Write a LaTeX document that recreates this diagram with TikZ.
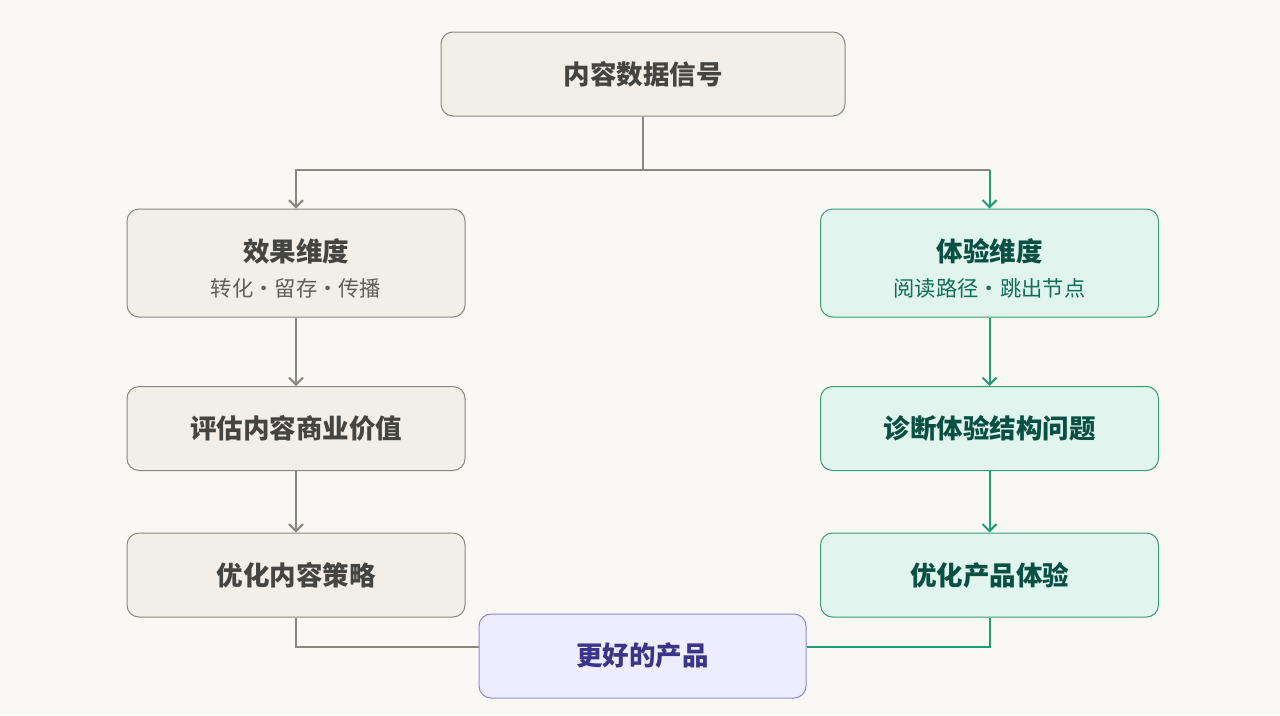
\documentclass[tikz,border=0pt]{standalone}
\usepackage{fontspec}
\setmainfont{Noto Sans CJK SC}
\usetikzlibrary{arrows.meta}
\definecolor{bg}{HTML}{F9F8F4}
\definecolor{grayfill}{HTML}{F1EFE8}
\definecolor{graydraw}{HTML}{8A8880}
\definecolor{graytext}{HTML}{444441}
\definecolor{graysub}{HTML}{5F5E5A}
\definecolor{grayline}{HTML}{888780}
\definecolor{greenfill}{HTML}{E1F5EE}
\definecolor{greendraw}{HTML}{3B9A78}
\definecolor{greentext}{HTML}{085041}
\definecolor{greensub}{HTML}{0F6E56}
\definecolor{greenline}{HTML}{1D9E75}
\definecolor{purplefill}{HTML}{EEEDFE}
\definecolor{purpledraw}{HTML}{8E86D8}
\definecolor{purpletext}{HTML}{3C3489}
\tikzset{
  box/.style={rounded corners=12pt, line width=1pt, minimum width=338pt, minimum height=84pt, align=center, inner sep=0pt},
  graybox/.style={box, fill=grayfill, draw=graydraw, text=graytext},
  greenbox/.style={box, fill=greenfill, draw=greendraw, text=greentext},
  purplebox/.style={box, fill=purplefill, draw=purpledraw, text=purpletext},
  main/.style={font=\fontsize{26.5}{30}\selectfont\bfseries},
  grayconn/.style={draw=grayline, line width=2pt},
  greenconn/.style={draw=greenline, line width=2pt},
  arr/.style={-{Straight Barb[length=7pt,width=14pt,line width=2pt]}}
}
\begin{document}
\begin{tikzpicture}[x=1pt,y=-1pt]
\fill[bg] (0,0) rectangle (1280,715);
\useasboundingbox (0,0) rectangle (1280,715);
% nodes
\node[graybox, main, minimum width=404pt] (top) at (643,74) {内容数据信号};
\node[graybox, minimum height=108pt] (eff) at (296,263) {{\fontsize{26.5}{30}\selectfont\bfseries\rule{0pt}{34pt}效果维度}\\[14pt]{\fontsize{21.3}{24}\selectfont\color{graysub}转化·留存·传播}};
\node[graybox, main] (eval) at (296,428.5) {评估内容商业价值};
\node[graybox, main] (optc) at (296,575) {优化内容策略};
\node[greenbox, minimum height=108pt] (exp) at (989.5,263) {{\fontsize{26.5}{30}\selectfont\bfseries\rule{0pt}{34pt}体验维度}\\[14pt]{\fontsize{21.3}{24}\selectfont\color{greensub}阅读路径·跳出节点}};
\node[greenbox, main] (diag) at (989.5,428.5) {诊断体验结构问题};
\node[greenbox, main] (optp) at (989.5,575) {优化产品体验};
\node[purplebox, main, minimum width=327pt] (better) at (642.5,656) {更好的产品};
% junction
\coordinate (j) at (643,170);
\coordinate (jl) at (eff.north |- j);
\coordinate (jr) at (exp.north |- j);
\draw[grayconn] (top.south) -- (j);
\draw[grayconn, arr] (j) -- (jl) -- (eff.north);
\draw[grayconn] (j) -- (jr);
\draw[greenconn, arr] (jr) -- (exp.north);
\draw[grayconn, arr] (eff.south) -- (eval.north);
\draw[grayconn, arr] (eval.south) -- (optc.north);
\draw[greenconn, arr] (exp.south) -- (diag.north);
\draw[greenconn, arr] (diag.south) -- (optp.north);
\draw[grayconn] (optc.south) |- ([yshift=9pt]better.west);
\draw[greenconn] (optp.south) |- ([yshift=9pt]better.east);
\end{tikzpicture}
\end{document}
